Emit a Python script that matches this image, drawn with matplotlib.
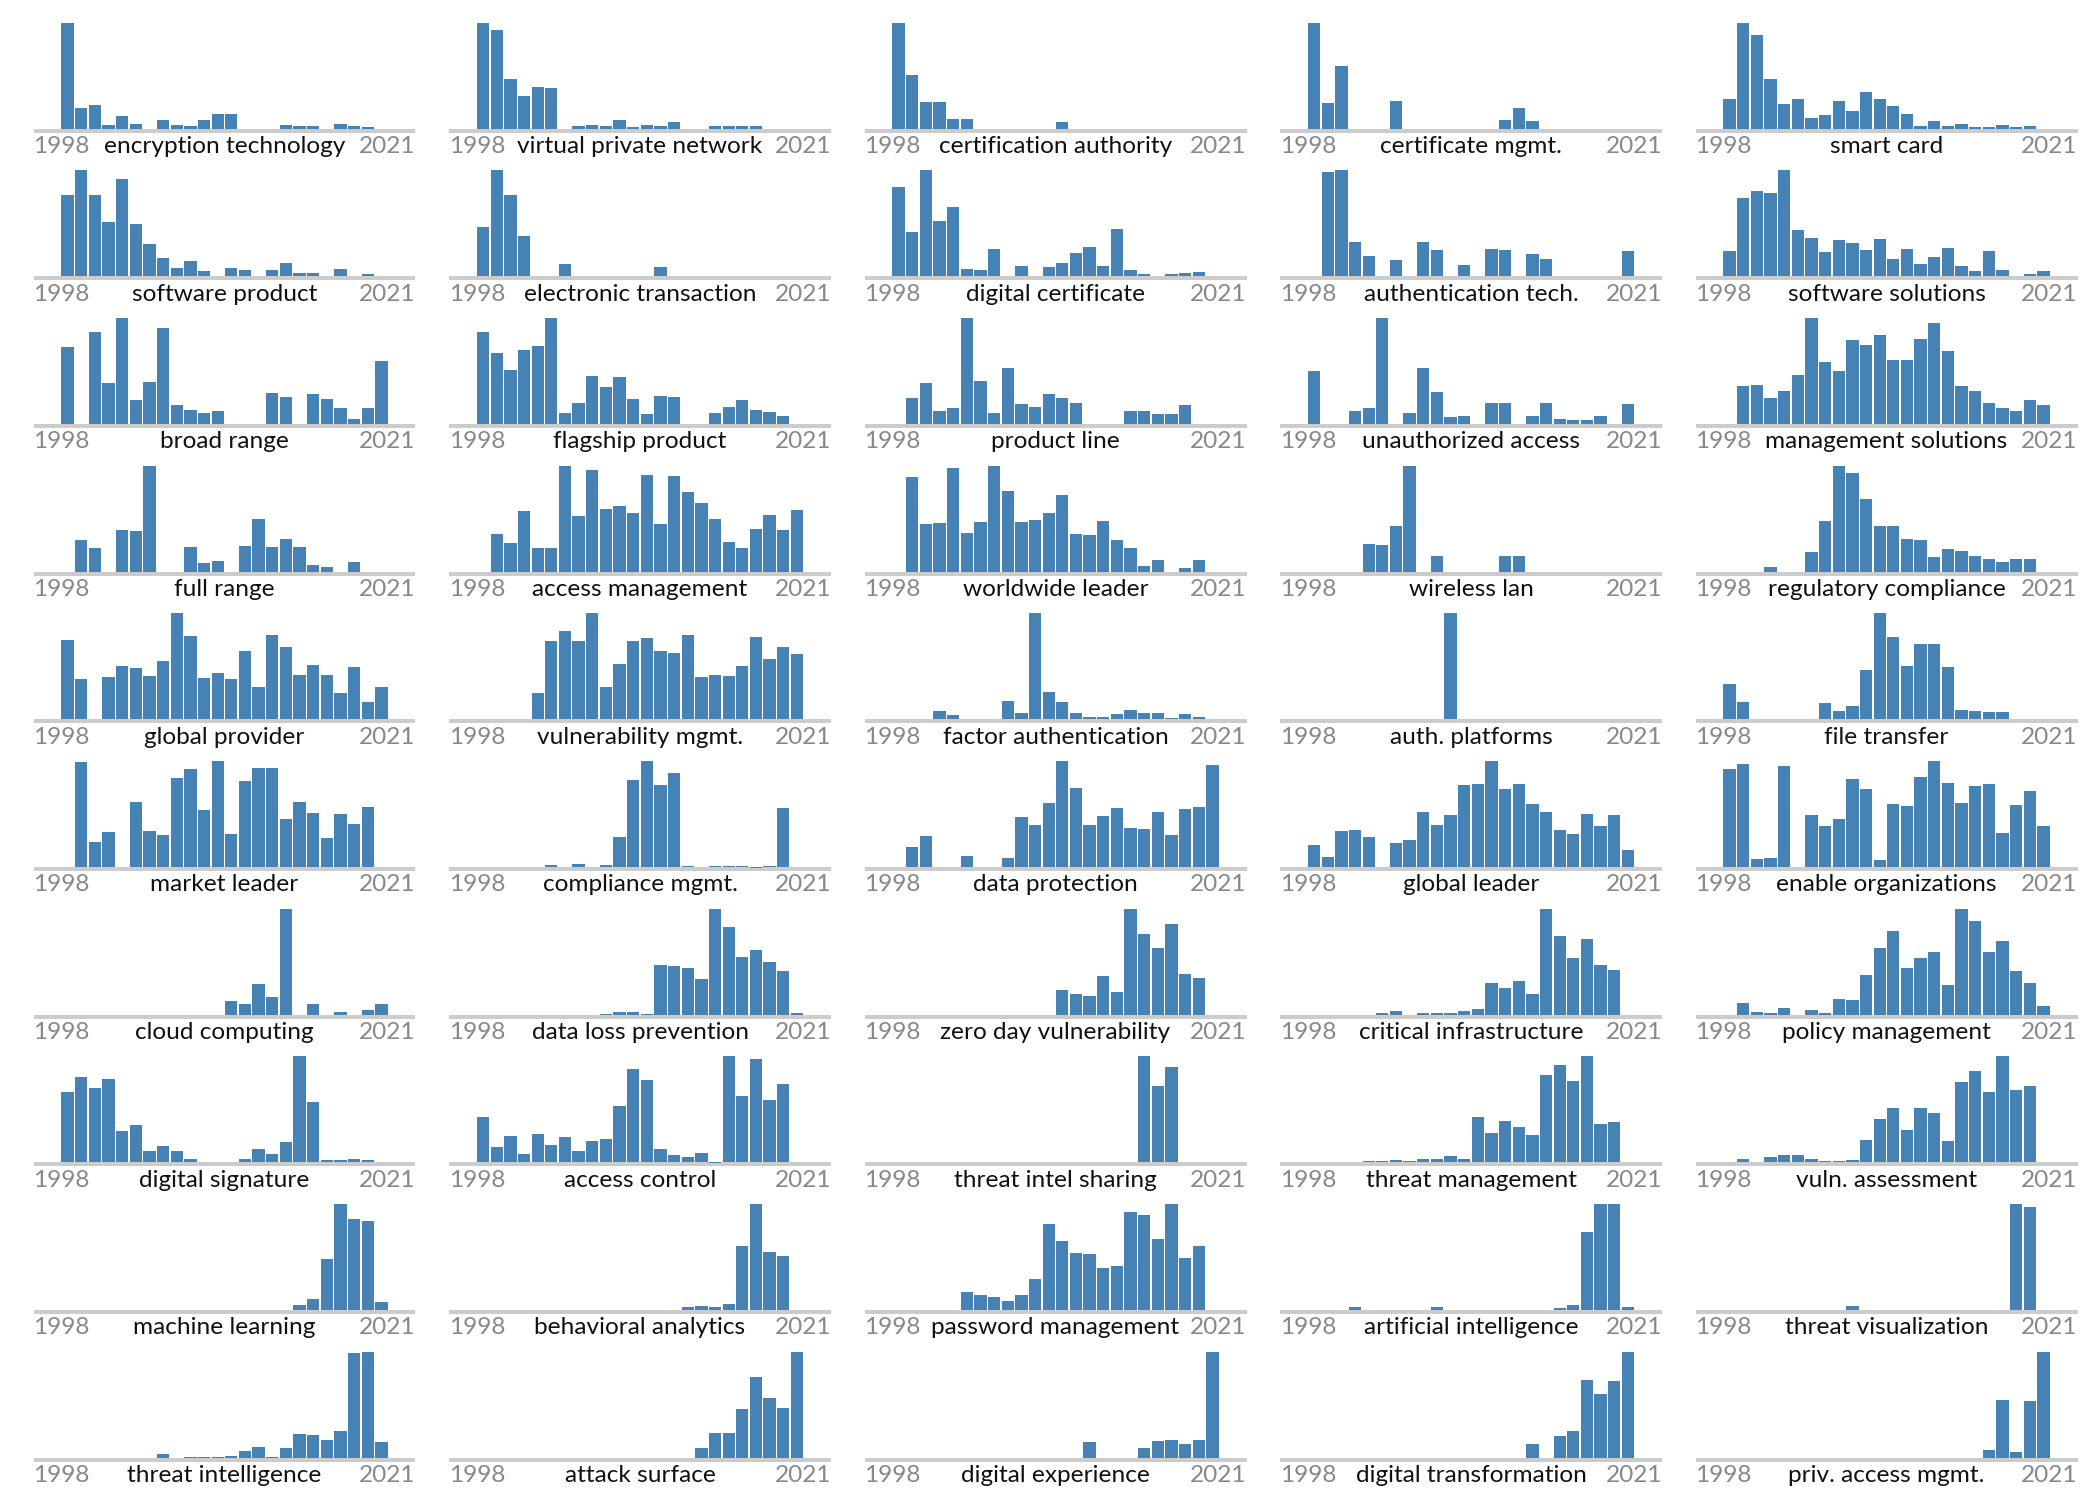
import matplotlib
matplotlib.use("Agg")
import matplotlib.pyplot as plt

# Anos (eixo x de cada painel)
years = [1998, 1999, 2000, 2001, 2002, 2003, 2004, 2005, 2006, 2007, 2008, 2009,
         2010, 2011, 2012, 2013, 2014, 2015, 2016, 2017, 2018, 2019, 2020, 2021]

# Valores normalizados (max = 1) por termo
encryption_technology = [1.0, 0.195, 0.223, 0.035, 0.12, 0.044, 0, 0.082, 0.035, 0.025, 0.082, 0.138, 0.138, 0, 0, 0, 0.035, 0.025, 0.025, 0, 0.04, 0.03, 0.02, 0]
virtual_private_network = [1.0, 0.934, 0.469, 0.308, 0.393, 0.384, 0, 0.025, 0.035, 0.025, 0.082, 0.016, 0.035, 0.025, 0.063, 0, 0, 0.025, 0.025, 0.025, 0.025, 0, 0, 0]
certification_authority = [1.0, 0.506, 0.252, 0.252, 0.091, 0.091, 0, 0, 0, 0, 0, 0, 0.063, 0, 0, 0, 0, 0, 0, 0, 0, 0, 0, 0]
certificate_mgmt = [1.0, 0.242, 0.591, 0, 0, 0, 0.261, 0, 0, 0, 0, 0, 0, 0, 0.082, 0.195, 0.072, 0, 0, 0, 0, 0, 0, 0]
smart_card = [0.28, 1.0, 0.887, 0.469, 0.233, 0.28, 0.1, 0.129, 0.261, 0.167, 0.346, 0.28, 0.214, 0.138, 0.025, 0.072, 0.025, 0.044, 0.016, 0.016, 0.035, 0.016, 0.03, 0]

software_product = [0.772, 1.0, 0.763, 0.516, 0.915, 0.497, 0.304, 0.174, 0.079, 0.146, 0.051, 0, 0.079, 0.06, 0, 0.06, 0.127, 0.032, 0.032, 0, 0.07, 0, 0.022, 0]
electronic_transaction = [0.465, 1.0, 0.763, 0.38, 0, 0, 0.114, 0, 0, 0, 0, 0, 0, 0.089, 0, 0, 0, 0, 0, 0, 0, 0, 0, 0]
digital_certificate = [0.839, 0.418, 1.0, 0.525, 0.658, 0.07, 0.06, 0.259, 0, 0.098, 0, 0.089, 0.127, 0.222, 0.278, 0.098, 0.449, 0.06, 0.022, 0, 0.022, 0.032, 0.041, 0]
authentication_tech = [0, 0.981, 1.0, 0.326, 0.193, 0, 0.155, 0, 0.326, 0.25, 0, 0.108, 0, 0.259, 0.25, 0, 0.212, 0.165, 0, 0, 0, 0, 0, 0.24]
software_solutions = [0.24, 0.744, 0.81, 0.782, 1.0, 0.44, 0.364, 0.231, 0.345, 0.316, 0.25, 0.354, 0.165, 0.259, 0.117, 0.184, 0.269, 0.098, 0.051, 0.24, 0.06, 0, 0.022, 0.051]

broad_range = [0.726, 0, 0.868, 0.387, 1.0, 0.226, 0.396, 0.906, 0.179, 0.132, 0.104, 0.123, 0, 0, 0, 0.292, 0.255, 0, 0.283, 0.236, 0.151, 0.047, 0.151, 0.594]
flagship_product = [0.868, 0.67, 0.509, 0.698, 0.736, 1.0, 0.104, 0.198, 0.453, 0.349, 0.443, 0.236, 0.094, 0.264, 0.255, 0, 0, 0.104, 0.16, 0.226, 0.132, 0.113, 0.075, 0]
product_line = [0, 0.245, 0.387, 0.123, 0.151, 1.0, 0.406, 0.104, 0.528, 0.189, 0.16, 0.283, 0.245, 0.198, 0, 0, 0, 0.123, 0.123, 0.094, 0.094, 0.179, 0, 0]
unauthorized_access = [0.5, 0, 0, 0.123, 0.151, 1.0, 0, 0.104, 0.528, 0.302, 0.066, 0.075, 0, 0.198, 0.198, 0, 0.075, 0.198, 0.047, 0.038, 0.038, 0.075, 0, 0.189]
management_solutions = [0, 0.358, 0.368, 0.245, 0.311, 0.462, 1.0, 0.585, 0.5, 0.792, 0.745, 0.84, 0.604, 0.604, 0.8, 0.953, 0.689, 0.358, 0.311, 0.198, 0.151, 0.123, 0.226, 0.179]

full_range = [0, 0.302, 0.226, 0, 0.396, 0.387, 1.0, 0, 0, 0.236, 0.085, 0.104, 0, 0.245, 0.5, 0.236, 0.311, 0.236, 0.066, 0.047, 0, 0.094, 0, 0]
access_management = [0, 0.358, 0.274, 0.575, 0.226, 0.226, 1.0, 0.528, 0.962, 0.594, 0.623, 0.557, 0.915, 0.453, 0.906, 0.755, 0.651, 0.5, 0.283, 0.226, 0.406, 0.538, 0.396, 0.585]
worldwide_leader = [0, 0.896, 0.453, 0.462, 0.981, 0.368, 0.472, 1.0, 0.764, 0.472, 0.491, 0.557, 0.726, 0.358, 0.349, 0.481, 0.302, 0.226, 0.057, 0.113, 0, 0.038, 0.113, 0]
wireless_lan = [0, 0, 0, 0, 0.264, 0.255, 0.434, 1.0, 0, 0.151, 0, 0, 0, 0, 0.151, 0.151, 0, 0, 0, 0, 0, 0, 0, 0]
regulatory_compliance = [0, 0, 0, 0.047, 0, 0, 0.189, 0.481, 1.0, 0.934, 0.689, 0.434, 0.434, 0.311, 0.302, 0.142, 0.217, 0.198, 0.151, 0.123, 0.094, 0.123, 0.123, 0]

global_provider = [0.745, 0.377, 0, 0.396, 0.5, 0.481, 0.406, 0.547, 1.0, 0.783, 0.387, 0.434, 0.377, 0.642, 0.302, 0.792, 0.679, 0.415, 0.509, 0.415, 0.245, 0.491, 0.16, 0.302]
vulnerability_mgmt = [0, 0, 0, 0, 0.245, 0.736, 0.83, 0.736, 1.0, 0.302, 0.519, 0.736, 0.764, 0.642, 0.623, 0.792, 0.396, 0.415, 0.406, 0.5, 0.774, 0.566, 0.679, 0.613]
factor_authentication = [0, 0, 0, 0.075, 0.038, 0, 0, 0, 0.17, 0.057, 1.0, 0.255, 0.16, 0.057, 0.019, 0.019, 0.047, 0.085, 0.057, 0.057, 0.01, 0.047, 0.019, 0]
auth_platforms = [0, 0, 0, 0, 0, 0, 0, 0, 0, 0, 1.0, 0, 0, 0, 0, 0, 0, 0, 0, 0, 0, 0, 0, 0]
file_transfer = [0.33, 0.16, 0, 0, 0, 0, 0, 0.151, 0.075, 0.123, 0.462, 1.0, 0.774, 0.5, 0.708, 0.708, 0.491, 0.085, 0.075, 0.066, 0.066, 0, 0, 0]

market_leader = [0, 0.99, 0.236, 0.33, 0, 0.613, 0.34, 0.302, 0.84, 0.925, 0.538, 1.0, 0.311, 0.811, 0.934, 0.934, 0.453, 0.613, 0.509, 0.274, 0.5, 0.406, 0.566, 0]
compliance_mgmt = [0, 0, 0, 0, 0, 0.02, 0, 0.025, 0, 0.02, 0.283, 0.821, 1.0, 0.774, 0.887, 0.006, 0, 0.006, 0.006, 0.006, -0.012, 0.006, 0.557, 0]
data_protection = [0, 0.189, 0.292, 0, 0, 0.104, 0, 0, 0.085, 0.472, 0.396, 0.604, 1.0, 0.745, 0.396, 0.481, 0.557, 0.368, 0.358, 0.519, 0.302, 0.547, 0.566, 0.962]
global_leader = [0.208, 0.094, 0.34, 0.349, 0.283, 0, 0.226, 0.255, 0.519, 0.396, 0.491, 0.774, 0.783, 1.0, 0.736, 0.783, 0.594, 0.519, 0.349, 0.311, 0.5, 0.387, 0.491, 0.16]
enable_organizations = [0.925, 0.972, 0.075, 0.085, 0.953, 0, 0.491, 0.387, 0.453, 0.83, 0.736, 0.066, 0.594, 0.575, 0.849, 1.0, 0.792, 0.604, 0.764, 0.783, 0.321, 0.585, 0.717, 0.387]

cloud_computing = [0, 0, 0, 0, 0, 0, 0, 0, 0, 0, 0, 0, 0.132, 0.104, 0.292, 0.17, 1.0, 0, 0.104, 0, 0.025, 0, 0.047, 0.104]
data_loss_prevention = [0, 0, 0, 0, 0, 0, 0, 0, 0, 0.006, 0.028, 0.028, 0.01, 0.472, 0.462, 0.443, 0.34, 1.0, 0.83, 0.547, 0.613, 0.5, 0.415, 0.019]
zero_day_vulnerability = [0, 0, 0, 0, 0, 0, 0, 0, 0, 0, 0, 0, 0.236, 0.198, 0.179, 0.368, 0.217, 1.0, 0.764, 0.632, 0.858, 0.387, 0.349, 0]
critical_infrastructure = [0, 0, 0, 0, 0, 0.019, 0.038, 0, 0.019, 0.012, 0.012, 0.038, 0.057, 0.302, 0.255, 0.321, 0.198, 1.0, 0.745, 0.538, 0.717, 0.472, 0.425, 0]
policy_management = [0, 0.113, 0.028, 0.019, 0.066, 0, 0.047, 0.019, 0.151, 0.142, 0.377, 0.632, 0.792, 0.443, 0.538, 0.594, 0.283, 1.0, 0.887, 0.594, 0.698, 0.415, 0.302, 0.085]

digital_signature = [0.66, 0.802, 0.698, 0.783, 0.292, 0.349, 0.104, 0.151, 0.104, 0.028, 0, 0, 0, 0.028, 0.123, 0.075, 0.189, 1.0, 0.566, 0.019, 0.019, 0.028, 0.019, 0]
access_control = [0.425, 0.142, 0.245, 0.075, 0.264, 0.16, 0.236, 0.104, 0.198, 0.217, 0.528, 0.877, 0.774, 0.123, 0.066, 0.047, 0.085, -0.01, 1.0, 0.623, 0.972, 0.585, 0.736, 0]
threat_intel_sharing = [0, 0, 0, 0, 0, 0, 0, 0, 0, 0, 0, 0, 0, 0, 0, 0, 0, 0, 1.0, 0.717, 0.896, 0, 0, 0]
threat_management = [0, 0, 0, 0, 0.015, 0.015, 0.025, 0.01, 0.03, 0.035, 0.057, 0.028, 0.425, 0.274, 0.387, 0.33, 0.255, 0.821, 0.915, 0.764, 1.0, 0.358, 0.377, 0]
vuln_assessment = [0, 0.035, 0, 0.05, 0.066, 0.066, 0.03, 0.015, 0.015, 0.025, 0.208, 0.406, 0.509, 0.302, 0.509, 0.462, 0.198, 0.755, 0.858, 0.66, 1.0, 0.679, 0.717, 0]

machine_learning = [0, 0, 0, 0, 0, 0, 0, 0, 0, 0, 0, 0, 0, 0, 0, 0, 0, 0.045, 0.105, 0.486, 1.0, 0.857, 0.838, 0.076]
behavioral_analytics = [0, 0, 0, 0, 0, 0, 0, 0, 0, 0, 0, 0, 0, 0, 0, 0.029, 0.038, 0.029, 0.057, 0.6, 1.0, 0.552, 0.514, 0]
password_management = [0, 0, 0, 0, 0, 0.171, 0.143, 0.124, 0.086, 0.143, 0.295, 0.81, 0.648, 0.543, 0.533, 0.4, 0.419, 0.924, 0.895, 0.667, 1.0, 0.495, 0.6, 0]
artificial_intelligence = [0, 0, 0, 0.025, 0, 0, 0, 0, 0, 0.025, 0, 0, 0, 0, 0, 0, 0, 0, 0.015, 0.048, 0.733, 1.0, 1.0, 0.03]
threat_visualization = [0, 0, 0, 0, 0, 0, 0, 0, 0, 0.035, 0, 0, 0, 0, 0, 0, 0, 0, 0, 0, 0, 1.0, 0.971, 0]

threat_intelligence = [0, 0, 0, 0, 0, 0, 0, 0.035, 0, 0.01, 0.01, 0.01, 0.015, 0.06, 0.1, 0.008, 0.094, 0.226, 0.217, 0.17, 0.255, 0.99, 1.0, 0.151]
attack_surface = [0, 0, 0, 0, 0, 0, 0, 0, 0, 0, 0, 0, 0, 0, 0, 0, 0.094, 0.236, 0.236, 0.462, 0.764, 0.566, 0.472, 1.0]
digital_experience = [0, 0, 0, 0, 0, 0, 0, 0, 0, 0, 0, 0, 0, 0, 0.151, 0, 0, 0, 0.094, 0.16, 0.17, 0.132, 0.17, 1.0]
digital_transformation = [0, 0, 0, 0, 0, 0, 0, 0, 0, 0, 0, 0, 0, 0, 0, 0, 0.132, 0, 0.208, 0.255, 0.736, 0.604, 0.726, 1.0]
priv_access_mgmt = [0, 0, 0, 0, 0, 0, 0, 0, 0, 0, 0, 0, 0, 0, 0, 0, 0, 0, 0, 0.075, 0.547, 0.057, 0.538, 1.0]

terms = [
    "encryption technology", "virtual private network", "certification authority", "certificate mgmt.", "smart card",
    "software product", "electronic transaction", "digital certificate", "authentication tech.", "software solutions",
    "broad range", "flagship product", "product line", "unauthorized access", "management solutions",
    "full range", "access management", "worldwide leader", "wireless lan", "regulatory compliance",
    "global provider", "vulnerability mgmt.", "factor authentication", "auth. platforms", "file transfer",
    "market leader", "compliance mgmt.", "data protection", "global leader", "enable organizations",
    "cloud computing", "data loss prevention", "zero day vulnerability", "critical infrastructure", "policy management",
    "digital signature", "access control", "threat intel sharing", "threat management", "vuln. assessment",
    "machine learning", "behavioral analytics", "password management", "artificial intelligence", "threat visualization",
    "threat intelligence", "attack surface", "digital experience", "digital transformation", "priv. access mgmt.",
]
series = [
    encryption_technology, virtual_private_network, certification_authority, certificate_mgmt, smart_card,
    software_product, electronic_transaction, digital_certificate, authentication_tech, software_solutions,
    broad_range, flagship_product, product_line, unauthorized_access, management_solutions,
    full_range, access_management, worldwide_leader, wireless_lan, regulatory_compliance,
    global_provider, vulnerability_mgmt, factor_authentication, auth_platforms, file_transfer,
    market_leader, compliance_mgmt, data_protection, global_leader, enable_organizations,
    cloud_computing, data_loss_prevention, zero_day_vulnerability, critical_infrastructure, policy_management,
    digital_signature, access_control, threat_intel_sharing, threat_management, vuln_assessment,
    machine_learning, behavioral_analytics, password_management, artificial_intelligence, threat_visualization,
    threat_intelligence, attack_surface, digital_experience, digital_transformation, priv_access_mgmt,
]

W, H = 2100, 1500
fig = plt.figure(figsize=(21, 15), dpi=100)

bar_color = "#4682b4"
base_color = "#cccccc"
fs = 17.6

for i, (term, vals) in enumerate(zip(terms, series)):
    r, c = divmod(i, 5)
    left = 33.5 + 415.5 * c
    base = 128.7 + 147.67 * r   # linha de base, px a partir do topo
    ax = fig.add_axes([left / W, 1 - base / H, 382 / W, 106 / H])
    ax.set_xlim(years[0] - 2.5, years[-1] + 2.5)
    ax.set_ylim(0, 1)
    ax.axis("off")

    ax.axhspan(-0.038, 0, color=base_color, lw=0, clip_on=False, zorder=1)
    ax.bar(years, vals, width=0.9, color=bar_color, clip_on=False, zorder=2)

    # rótulos
    ax.annotate(str(years[0]), xy=(0, 0), xycoords="axes fraction",
                xytext=(0, -17.5), textcoords="offset points",
                ha="left", va="baseline", fontsize=fs, color="#888888", family="Lato")
    ax.annotate(str(years[-1]), xy=(1, 0), xycoords="axes fraction",
                xytext=(0, -17.5), textcoords="offset points",
                ha="right", va="baseline", fontsize=fs, color="#888888", family="Lato")
    ax.annotate(term, xy=(0.5, 0), xycoords="axes fraction",
                xytext=(0, -17.5), textcoords="offset points",
                ha="center", va="baseline", fontsize=fs, color="#111111", family="Lato")

fig.savefig("out.png", dpi=100, facecolor="white")
